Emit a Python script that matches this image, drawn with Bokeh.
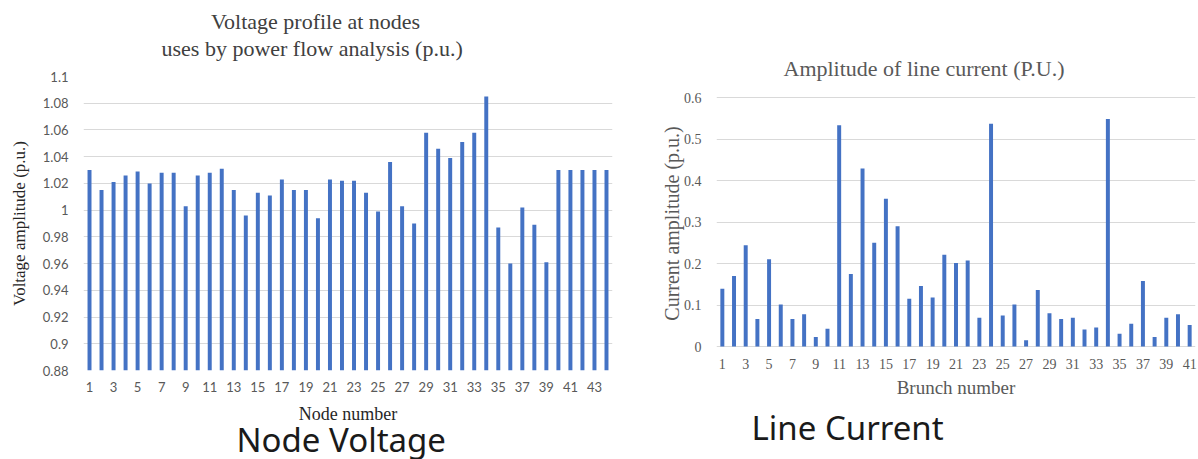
from bokeh.plotting import figure
from bokeh.layouts import row
from bokeh.models import Range1d, FixedTicker, CustomJSTickFormatter, Title
from bokeh.embed import file_html
from bokeh.resources import INLINE

# ---------------- data ----------------
node_numbers = list(range(1, 45))
node_voltage = [1.030, 1.015, 1.021, 1.026, 1.029, 1.020, 1.028, 1.028, 1.003, 1.026,
                1.028, 1.031, 1.015, 0.996, 1.013, 1.011, 1.023, 1.015, 1.015, 0.994,
                1.023, 1.022, 1.022, 1.013, 0.999, 1.036, 1.003, 0.990, 1.058, 1.046,
                1.039, 1.051, 1.058, 1.085, 0.987, 0.960, 1.002, 0.989, 0.961, 1.030,
                1.030, 1.030, 1.030, 1.030]
volt_ticks = [0.88, 0.90, 0.92, 0.94, 0.96, 0.98, 1.00, 1.02, 1.04, 1.06, 1.08, 1.10]
node_ticks = list(range(1, 45, 2))

branch_numbers = list(range(1, 42))
line_current = [0.139, 0.170, 0.244, 0.066, 0.210, 0.101, 0.066, 0.078, 0.023, 0.043,
                0.533, 0.175, 0.429, 0.250, 0.356, 0.290, 0.115, 0.146, 0.118, 0.221,
                0.201, 0.207, 0.069, 0.537, 0.075, 0.101, 0.015, 0.136, 0.080, 0.066,
                0.069, 0.041, 0.046, 0.548, 0.031, 0.055, 0.158, 0.023, 0.069, 0.078,
                0.052]
current_ticks = [0.0, 0.1, 0.2, 0.3, 0.4, 0.5, 0.6]
branch_ticks = list(range(1, 42, 2))

BAR = "#4472C4"
GRID = "#d9d9d9"
TICK_COL = "#595959"
SERIF = "Liberation Serif"
NBSP = "\u00a0"
fmt = CustomJSTickFormatter(code="return String(Math.round(tick*100)/100);")

# layout: both frames share top=76 px and bottom=370 px (row aligns them);
# the right chart's gridlines sit at 97 px (top tick) and 346 px (zero)
FRAME_TOP, FRAME_BOTTOM = 76, 370
R_TOP_PX, R_ZERO_PX = 97, 346
r_px_per_unit = (R_ZERO_PX - R_TOP_PX) / (current_ticks[-1] - current_ticks[0])
r_start = current_ticks[0] - (FRAME_BOTTOM - R_ZERO_PX) / r_px_per_unit
r_end = current_ticks[-1] + (R_TOP_PX - FRAME_TOP) / r_px_per_unit


def style(p, tick_font, tick_size, label_color):
    p.xgrid.grid_line_color = None
    p.ygrid.grid_line_color = GRID
    p.ygrid.grid_line_width = 1
    p.outline_line_color = None
    for ax in (p.xaxis[0], p.yaxis[0]):
        ax.axis_line_color = None
        ax.major_tick_line_color = None
        ax.minor_tick_line_color = None
        ax.major_tick_out = 0
        ax.major_tick_in = 0
        ax.minor_tick_out = 0
        ax.minor_tick_in = 0
        ax.major_label_text_font = tick_font
        ax.major_label_text_font_size = tick_size
        ax.major_label_text_color = TICK_COL
        ax.axis_label_text_font = SERIF
        ax.axis_label_text_font_style = "normal"
        ax.axis_label_text_color = label_color


def add_title(p, text, where, offset, size, font, color, standoff, valign, line_height=1.2):
    p.add_layout(Title(text=text, align="left", offset=offset, standoff=standoff,
                       vertical_align=valign, text_line_height=line_height,
                       text_font=font, text_font_size=size, text_color=color,
                       text_font_style="normal"), where)


# ---------------- left chart ----------------
p1 = figure(width=640, height=459, output_backend="svg", toolbar_location=None,
            x_range=Range1d(0.5, 44.5), y_range=Range1d(volt_ticks[0], volt_ticks[-1]),
            min_border_left=83, min_border_right=28,
            min_border_top=FRAME_TOP, min_border_bottom=459 - FRAME_BOTTOM)
p1.vbar(x=node_numbers, top=node_voltage, bottom=volt_ticks[0], width=0.33,
        fill_color=BAR, line_color=None)
style(p1, "Lato", "13px", "#262626")
p1.yaxis.ticker = FixedTicker(ticks=volt_ticks)
p1.yaxis.formatter = fmt
p1.xaxis.ticker = FixedTicker(ticks=node_ticks)
p1.xaxis.axis_label = "Node number"
p1.yaxis.axis_label = "Voltage amplitude (p.u.)"
p1.xaxis.axis_label_text_font_size = "18px"
p1.yaxis.axis_label_text_font_size = "17px"
p1.xaxis.major_label_standoff = 11
p1.xaxis.axis_label_standoff = 9
p1.yaxis.major_label_standoff = 15
p1.yaxis.axis_label_standoff = 11

# small empty spacer between the frame and the two-line title
add_title(p1, " ", "above", 0, "12px", SERIF, "#ffffff", 0, "bottom")
add_title(p1, NBSP * 9 + "Voltage profile at nodes\nuses by power flow analysis (p.u.)",
          "above", 78, "22px", SERIF, "#404040", 0, "bottom", 1.06)
add_title(p1, "Node Voltage", "below", 153, "33px", "Noto Sans", "#1a1a1a", -19, "top")

# ---------------- right chart ----------------
p2 = figure(width=558, height=459, output_backend="svg", toolbar_location=None,
            x_range=Range1d(0.5, 41.5), y_range=Range1d(r_start, r_end),
            min_border_left=76, min_border_right=3,
            min_border_top=FRAME_TOP, min_border_bottom=459 - FRAME_BOTTOM)
p2.vbar(x=branch_numbers, top=line_current, bottom=current_ticks[0], width=0.34,
        fill_color=BAR, line_color=None)
style(p2, SERIF, "14px", TICK_COL)
p2.yaxis.ticker = FixedTicker(ticks=current_ticks)
p2.yaxis.formatter = fmt
p2.xaxis.ticker = FixedTicker(ticks=branch_ticks)
p2.xaxis.axis_label = "Brunch number"
p2.yaxis.axis_label = "Current amplitude (p.u.)"
p2.xaxis.axis_label_text_font_size = "19px"
p2.yaxis.axis_label_text_font_size = "20px"
p2.xaxis.major_label_standoff = -12
p2.xaxis.axis_label_standoff = 5
p2.yaxis.major_label_standoff = 15
p2.yaxis.axis_label_standoff = -2

add_title(p2, "Amplitude of line current (P.U.)", "above", 67, "22px", SERIF, TICK_COL, -10, "middle")
add_title(p2, "Line Current", "below", 35, "33px", "Noto Sans", "#1a1a1a", 8, "top")

layout = row(p1, p2, spacing=0)
open("out.html", "w").write(file_html(layout, INLINE))
